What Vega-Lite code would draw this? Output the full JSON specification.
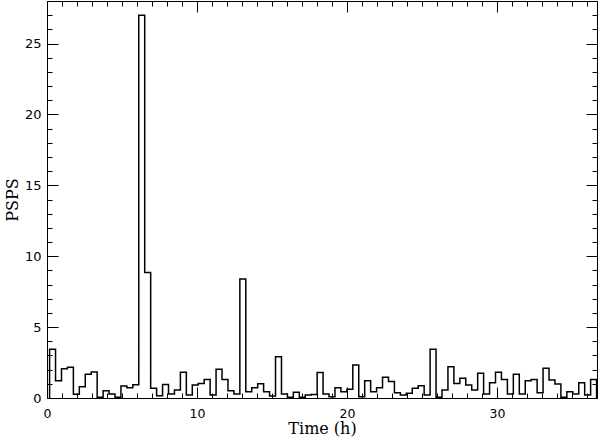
{
  "$schema": "https://vega.github.io/schema/vega-lite/v6.json",
  "width": 550,
  "height": 397,
  "autosize": {"type": "none"},
  "padding": {"left": 47, "top": 1, "right": 5, "bottom": 45},
  "background": "white",
  "config": {
    "view": {"stroke": "black", "strokeWidth": 1},
    "axis": {
      "domain": false,
      "grid": false,
      "tickColor": "black",
      "tickWidth": 1,
      "labelColor": "black",
      "labelFont": "DejaVu Sans",
      "labelFontSize": 13,
      "titleColor": "black",
      "titleFont": "DejaVu Serif",
      "titleFontSize": 16,
      "titleFontWeight": "normal"
    }
  },
  "data": {
    "values": [
      {"i": 0, "t": 0.173, "v": 0},
      {"i": 1, "t": 0.173, "v": 3.43},
      {"i": 2, "t": 0.569, "v": 1.22},
      {"i": 3, "t": 0.966, "v": 2.07},
      {"i": 4, "t": 1.362, "v": 2.16},
      {"i": 5, "t": 1.759, "v": 0.26},
      {"i": 6, "t": 2.155, "v": 0.8},
      {"i": 7, "t": 2.551, "v": 1.67},
      {"i": 8, "t": 2.948, "v": 1.83},
      {"i": 9, "t": 3.344, "v": 0.05},
      {"i": 10, "t": 3.741, "v": 0.52},
      {"i": 11, "t": 4.137, "v": 0.28},
      {"i": 12, "t": 4.533, "v": 0.05},
      {"i": 13, "t": 4.93, "v": 0.85},
      {"i": 14, "t": 5.326, "v": 0.73},
      {"i": 15, "t": 5.723, "v": 0.94},
      {"i": 16, "t": 6.119, "v": 27.0},
      {"i": 17, "t": 6.515, "v": 8.85},
      {"i": 18, "t": 6.912, "v": 0.68},
      {"i": 19, "t": 7.308, "v": 0.16},
      {"i": 20, "t": 7.705, "v": 0.96},
      {"i": 21, "t": 8.101, "v": 0.28},
      {"i": 22, "t": 8.497, "v": 0.56},
      {"i": 23, "t": 8.894, "v": 1.81},
      {"i": 24, "t": 9.29, "v": 0.21},
      {"i": 25, "t": 9.687, "v": 0.92},
      {"i": 26, "t": 10.083, "v": 1.03},
      {"i": 27, "t": 10.479, "v": 1.31},
      {"i": 28, "t": 10.876, "v": 0.21},
      {"i": 29, "t": 11.272, "v": 2.02},
      {"i": 30, "t": 11.669, "v": 1.31},
      {"i": 31, "t": 12.065, "v": 0.52},
      {"i": 32, "t": 12.461, "v": 0.28},
      {"i": 33, "t": 12.858, "v": 8.4},
      {"i": 34, "t": 13.254, "v": 0.44},
      {"i": 35, "t": 13.651, "v": 0.73},
      {"i": 36, "t": 14.047, "v": 1.01},
      {"i": 37, "t": 14.443, "v": 0.44},
      {"i": 38, "t": 14.84, "v": 0.14},
      {"i": 39, "t": 15.236, "v": 2.91},
      {"i": 40, "t": 15.633, "v": 0.28},
      {"i": 41, "t": 16.029, "v": 0.05},
      {"i": 42, "t": 16.425, "v": 0.4},
      {"i": 43, "t": 16.822, "v": 0.05},
      {"i": 44, "t": 17.218, "v": 0.21},
      {"i": 45, "t": 17.615, "v": 0.25},
      {"i": 46, "t": 18.011, "v": 1.8},
      {"i": 47, "t": 18.407, "v": 0.28},
      {"i": 48, "t": 18.804, "v": 0.09},
      {"i": 49, "t": 19.2, "v": 0.73},
      {"i": 50, "t": 19.597, "v": 0.44},
      {"i": 51, "t": 19.993, "v": 0.61},
      {"i": 52, "t": 20.389, "v": 2.32},
      {"i": 53, "t": 20.786, "v": 0.09},
      {"i": 54, "t": 21.182, "v": 1.22},
      {"i": 55, "t": 21.579, "v": 0.44},
      {"i": 56, "t": 21.975, "v": 0.73},
      {"i": 57, "t": 22.371, "v": 1.46},
      {"i": 58, "t": 22.768, "v": 1.17},
      {"i": 59, "t": 23.164, "v": 0.37},
      {"i": 60, "t": 23.561, "v": 0.21},
      {"i": 61, "t": 23.957, "v": 0.33},
      {"i": 62, "t": 24.353, "v": 0.68},
      {"i": 63, "t": 24.75, "v": 0.87},
      {"i": 64, "t": 25.146, "v": 0.21},
      {"i": 65, "t": 25.543, "v": 3.43},
      {"i": 66, "t": 25.939, "v": 0.05},
      {"i": 67, "t": 26.335, "v": 0.56},
      {"i": 68, "t": 26.732, "v": 2.21},
      {"i": 69, "t": 27.128, "v": 1.03},
      {"i": 70, "t": 27.525, "v": 1.39},
      {"i": 71, "t": 27.921, "v": 0.92},
      {"i": 72, "t": 28.317, "v": 0.56},
      {"i": 73, "t": 28.714, "v": 1.74},
      {"i": 74, "t": 29.11, "v": 0.28},
      {"i": 75, "t": 29.507, "v": 1.08},
      {"i": 76, "t": 29.903, "v": 1.81},
      {"i": 77, "t": 30.299, "v": 1.31},
      {"i": 78, "t": 30.696, "v": 0.28},
      {"i": 79, "t": 31.092, "v": 1.67},
      {"i": 80, "t": 31.489, "v": 0.28},
      {"i": 81, "t": 31.885, "v": 1.22},
      {"i": 82, "t": 32.281, "v": 1.31},
      {"i": 83, "t": 32.678, "v": 0.37},
      {"i": 84, "t": 33.074, "v": 2.09},
      {"i": 85, "t": 33.471, "v": 1.27},
      {"i": 86, "t": 33.867, "v": 0.99},
      {"i": 87, "t": 34.263, "v": 0.05},
      {"i": 88, "t": 34.66, "v": 0.44},
      {"i": 89, "t": 35.056, "v": 0.28},
      {"i": 90, "t": 35.453, "v": 1.08},
      {"i": 91, "t": 35.849, "v": 0.21},
      {"i": 92, "t": 36.245, "v": 1.31},
      {"i": 93, "t": 36.642, "v": 1.31},
      {"i": 94, "t": 36.642, "v": 0}
    ]
  },
  "layer": [
    {
      "mark": {"type": "line", "interpolate": "step-after", "color": "black", "strokeWidth": 1.5},
      "encoding": {
        "x": {
          "field": "t", "type": "quantitative",
          "scale": {"domain": [0, 36.67], "nice": false, "zero": false},
          "axis": {
            "orient": "bottom", "values": [0, 10, 20, 30], "tickSize": -11,
            "labelPadding": 20, "labelBaseline": "top", "labelFlush": false, "labelFontSize": 12.5,
            "title": "Time (h)", "titleX": 275, "titleY": 35.5, "titleAlign": "center",
            "titleBaseline": "alphabetic", "titleAnchor": null
          }
        },
        "y": {
          "field": "v", "type": "quantitative",
          "scale": {"domain": [0, 28], "nice": false, "zero": true},
          "axis": {
            "orient": "left", "values": [0, 5, 10, 15, 20, 25], "tickSize": -11,
            "labelPadding": 17, "labelBaseline": "middle", "labelFlush": false,
            "title": "PSPS", "titleX": -35, "titleY": 198.5, "titleAngle": -90,
            "titleAlign": "center", "titleBaseline": "middle", "titleAnchor": null
          }
        },
        "order": {"field": "i", "type": "quantitative"}
      }
    },
    {
      "mark": {"type": "line", "opacity": 0},
      "encoding": {
        "x": {
          "field": "t", "type": "quantitative",
          "scale": {"domain": [0, 36.67], "nice": false, "zero": false},
          "axis": {"orient": "top", "values": [0, 10, 20, 30], "tickSize": -11, "labels": false, "title": null}
        },
        "y": {
          "field": "v", "type": "quantitative",
          "scale": {"domain": [0, 28], "nice": false, "zero": true},
          "axis": {"orient": "right", "values": [0, 5, 10, 15, 20, 25], "tickSize": -11, "labels": false, "title": null}
        },
        "order": {"field": "i", "type": "quantitative"}
      }
    },
    {
      "mark": {"type": "line", "opacity": 0},
      "encoding": {
        "x": {
          "field": "t", "type": "quantitative",
          "scale": {"domain": [0, 36.67], "nice": false, "zero": false},
          "axis": {"orient": "bottom", "values": [0,1,2,3,4,5,6,7,8,9,10,11,12,13,14,15,16,17,18,19,20,21,22,23,24,25,26,27,28,29,30,31,32,33,34,35,36], "tickSize": -5, "labels": false, "title": null}
        },
        "y": {
          "field": "v", "type": "quantitative",
          "scale": {"domain": [0, 28], "nice": false, "zero": true},
          "axis": {"orient": "left", "values": [0,1,2,3,4,5,6,7,8,9,10,11,12,13,14,15,16,17,18,19,20,21,22,23,24,25,26,27,28], "tickSize": -5, "labels": false, "title": null}
        },
        "order": {"field": "i", "type": "quantitative"}
      }
    },
    {
      "mark": {"type": "line", "opacity": 0},
      "encoding": {
        "x": {
          "field": "t", "type": "quantitative",
          "scale": {"domain": [0, 36.67], "nice": false, "zero": false},
          "axis": {"orient": "top", "values": [0,1,2,3,4,5,6,7,8,9,10,11,12,13,14,15,16,17,18,19,20,21,22,23,24,25,26,27,28,29,30,31,32,33,34,35,36], "tickSize": -5, "labels": false, "title": null}
        },
        "y": {
          "field": "v", "type": "quantitative",
          "scale": {"domain": [0, 28], "nice": false, "zero": true},
          "axis": {"orient": "right", "values": [0,1,2,3,4,5,6,7,8,9,10,11,12,13,14,15,16,17,18,19,20,21,22,23,24,25,26,27,28], "tickSize": -5, "labels": false, "title": null}
        },
        "order": {"field": "i", "type": "quantitative"}
      }
    }
  ],
  "resolve": {"axis": {"x": "independent", "y": "independent"}}
}
